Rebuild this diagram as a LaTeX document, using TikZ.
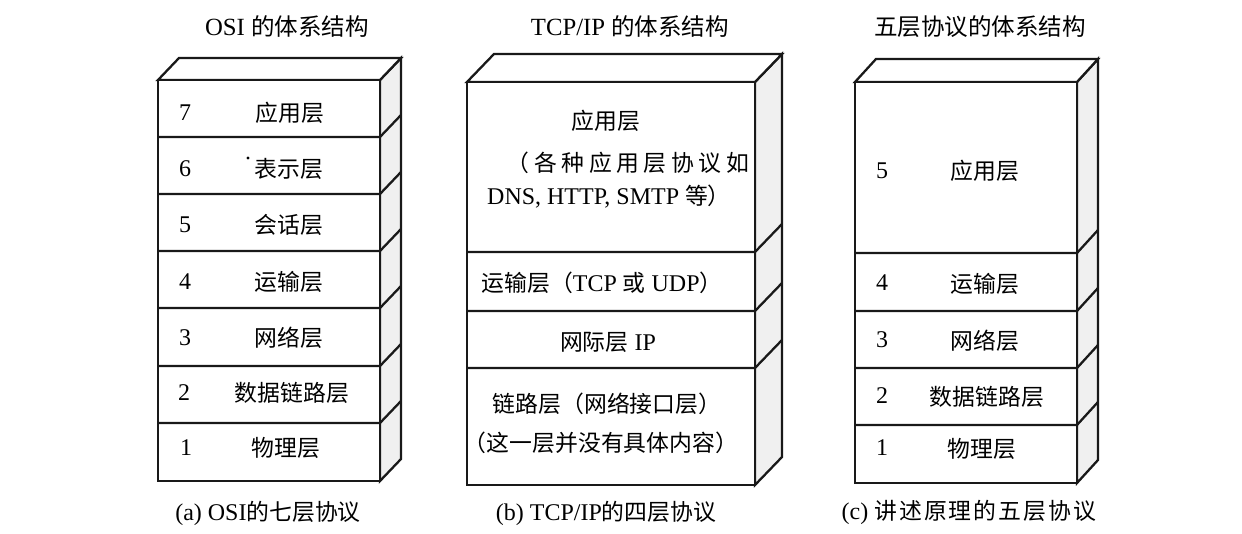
\documentclass[tikz,border=0pt]{standalone}
\usepackage{fontspec}
\setmainfont{Liberation Serif}[Scale=1.05]
\newfontfamily\cjk{Noto Sans CJK SC}
\newfontfamily\cjkwide[LetterSpace=20]{Noto Sans CJK SC}
\newfontfamily\cjkwider[LetterSpace=9]{Noto Sans CJK SC}

% A protocol stack drawn as a box in oblique view:
% #1 left, #2 right, #3 depth x, #4 depth y, #5 top, #6 bottom, #7 inner layer lines
\newcommand\layerstack[7]{%
  \filldraw[edge, side] (#2,#5) -- (#2+#3,#5-#4) -- (#2+#3,#6-#4) -- (#2,#6) -- cycle;
  \draw[edge, fill=white] (#1,#5) -- (#1+#3,#5-#4) -- (#2+#3,#5-#4) -- (#2,#5) -- cycle;
  \draw[edge, fill=white] (#1,#5) rectangle (#2,#6);
  \foreach \yy in {#7} { \draw[edge] (#1,\yy) -- (#2,\yy) -- (#2+#3,\yy-#4); }
}

\begin{document}
\begin{tikzpicture}[x=0.02cm, y=-0.02cm,
  edge/.style={line width=1.3pt, line join=miter, draw=black!90},
  side/.style={fill=black!6},
  lbl/.style={font=\fontsize{13}{15}\selectfont, inner sep=0pt, anchor=center},
  num/.style={lbl},
  ttl/.style={font=\fontsize{13.4}{15}\selectfont, inner sep=0pt, anchor=center},
  captext/.style={font=\fontsize{13}{15}\selectfont, inner sep=0pt, anchor=center}]
\useasboundingbox (0,0) rectangle (1242,534);

% ---------- (a) OSI, seven layers ----------
\layerstack{158}{380}{21}{22}{80}{481}{137,194,251,308,366,423}
\node[ttl] (ta) at (287,27) {OSI {\cjk 的体系结构}};
\node[num] (a7) at (185,113) {7};  \node[lbl] (l7) at (290,113) {\cjk 应用层};
\node[num] (a6) at (185,169) {6};  \node[lbl] (l6) at (289,169) {\cjk 表示层};
\fill (248,158) circle (1.6);
\node[num] (a5) at (185,225) {5};  \node[lbl] (l5) at (289,225) {\cjk 会话层};
\node[num] (a4) at (185,282) {4};  \node[lbl] (l4) at (289,282) {\cjk 运输层};
\node[num] (a3) at (185,338) {3};  \node[lbl] (l3) at (289,338) {\cjk 网络层};
\node[num] (a2) at (184,393) {2};  \node[lbl] (l2) at (292,393) {\cjk 数据链路层};
\node[num] (a1) at (186,448) {1};  \node[lbl] (l1) at (286,448) {\cjk 物理层};
\node[captext] (ca) at (268,513) {(a) OSI{\cjk 的七层协议}};

% ---------- (b) TCP/IP, four layers ----------
\layerstack{467}{755}{27}{28}{82}{485}{252,311,368}
\node[ttl] (tb) at (630,27) {TCP/IP {\cjk 的体系结构}};
\node[lbl] (b4a) at (606,121) {\cjk 应用层};
\node[lbl] (b4b) at (628,163) {\cjkwide （各种应用层协议如};
\node[lbl] (b4c) at (609,197) {DNS, HTTP, SMTP {\cjk 等）}};
\node[lbl] (b3) at (602,283) {{\cjk 运输层（}TCP {\cjk 或} UDP{\cjk ）}};
\node[lbl] (b2) at (608,342) {{\cjk 网际层} IP};
\node[lbl] (b1a) at (607,404) {\cjk 链路层（网络接口层）};
\node[lbl] (b1b) at (601,443) {\cjk （这一层并没有具体内容）};
\node[captext] (cb) at (606,513) {(b) TCP/IP{\cjk 的四层协议}};

% ---------- (c) five layers ----------
\layerstack{855}{1077}{21}{23}{82}{483}{253,311,368,425}
\node[ttl] (tc) at (980,27) {\cjk 五层协议的体系结构};
\node[num] (c5) at (882,171) {5};  \node[lbl] (m5) at (985,171) {\cjk 应用层};
\node[num] (c4) at (882,283) {4};  \node[lbl] (m4) at (985,284) {\cjk 运输层};
\node[num] (c3) at (882,340) {3};  \node[lbl] (m3) at (985,341) {\cjk 网络层};
\node[num] (c2) at (882,396) {2};  \node[lbl] (m2) at (987,397) {\cjk 数据链路层};
\node[num] (c1) at (882,448) {1};  \node[lbl] (m1) at (982,449) {\cjk 物理层};
\node[captext] (cc) at (969,512) {(c) {\cjkwider 讲述原理的五层协议}};
\end{tikzpicture}
\end{document}
